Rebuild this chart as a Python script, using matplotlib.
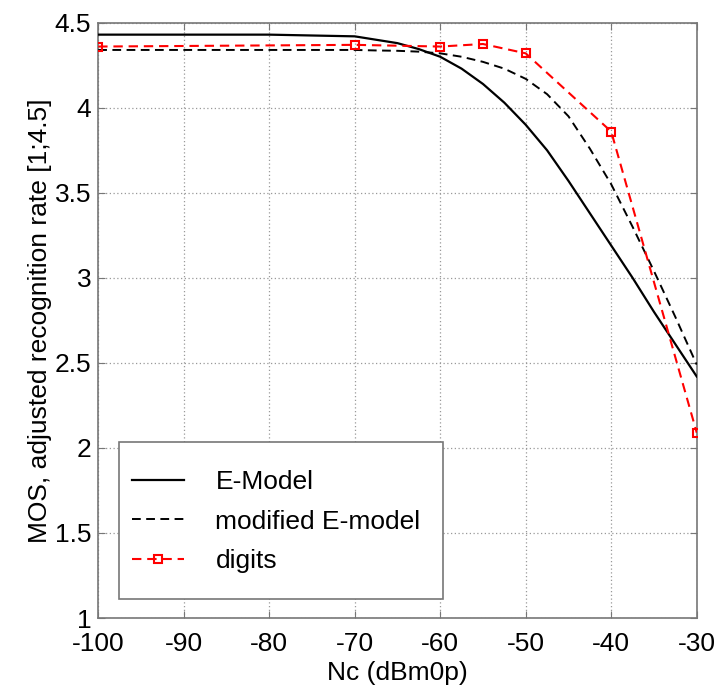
import matplotlib
matplotlib.use("Agg")
import matplotlib.pyplot as plt
from matplotlib.patches import Rectangle

plt.rcParams["font.family"] = ["Liberation Sans", "DejaVu Sans"]
plt.rcParams["axes.unicode_minus"] = False

# E-Model curve
nc_model = [-100, -90, -80, -75, -70, -67.5, -65, -62.5, -60, -57.5, -55,
            -52.5, -50, -47.5, -45, -42.5, -40, -37.5, -35, -32.5, -30]
emodel = [4.43, 4.43, 4.43, 4.425, 4.42, 4.40, 4.38, 4.345, 4.30, 4.23, 4.14,
          4.03, 3.90, 3.75, 3.57, 3.38, 3.19, 3.00, 2.80, 2.61, 2.42]
emodel_mod = [4.34, 4.34, 4.34, 4.34, 4.34, 4.337, 4.335, 4.33, 4.32, 4.30, 4.27,
              4.23, 4.17, 4.08, 3.95, 3.76, 3.55, 3.30, 3.04, 2.77, 2.49]

# measured digits
nc_digits = [-100, -70, -60, -55, -50, -40, -30]
digits = [4.36, 4.37, 4.36, 4.375, 4.32, 3.86, 2.09]

FS = 19

fig = plt.figure(figsize=(7.22, 6.89), dpi=100)
ax = fig.add_axes([0.136, 0.103, 0.829, 0.864])

ax.plot(nc_model, emodel, color="black", lw=1.6, label="E-Model", zorder=3)
ax.plot(nc_model, emodel_mod, color="black", lw=1.4, ls=(0, (4.5, 2.8)),
        label="modified E-model", zorder=3)
ax.plot(nc_digits, digits, color="red", lw=1.5, ls=(0, (4.5, 2.8)), marker="s",
        ms=6, mfc="none", mec="red", mew=1.5, label="digits", zorder=3)

ax.set_xlim(-100, -30)
ax.set_ylim(1, 4.5)
ax.set_xticks(range(-100, -29, 10))
ax.set_yticks([1, 1.5, 2, 2.5, 3, 3.5, 4, 4.5])
ax.set_yticklabels(["1", "1.5", "2", "2.5", "3", "3.5", "4", "4.5"])
ax.grid(True, color="#999999", ls=(0, (1, 2)), lw=0.9)
ax.tick_params(direction="in", length=5, top=True, right=True,
               labelsize=FS, color="#777777")
ax.tick_params(axis="x", pad=10)
ax.tick_params(axis="y", pad=5)
for sp in ax.spines.values():
    sp.set_color("#777777")
    sp.set_linewidth(1.2)

ax.set_xlabel("Nc (dBm0p)", fontsize=FS, labelpad=4)
ax.set_ylabel("MOS, adjusted recognition rate [1;4.5]", fontsize=FS, labelpad=2)

box = Rectangle((0.035, 0.032), 0.541, 0.264, transform=ax.transAxes,
                facecolor="white", edgecolor="#777777", lw=1.2, zorder=4)
ax.add_patch(box)
leg = ax.legend(loc="center left", bbox_to_anchor=(0.057, 0.162),
                frameon=False, fontsize=FS, handlelength=1.95,
                handletextpad=1.2, labelspacing=0.58, borderpad=0,
                borderaxespad=0)
leg.set_zorder(5)

fig.savefig("out.png", dpi=100)
